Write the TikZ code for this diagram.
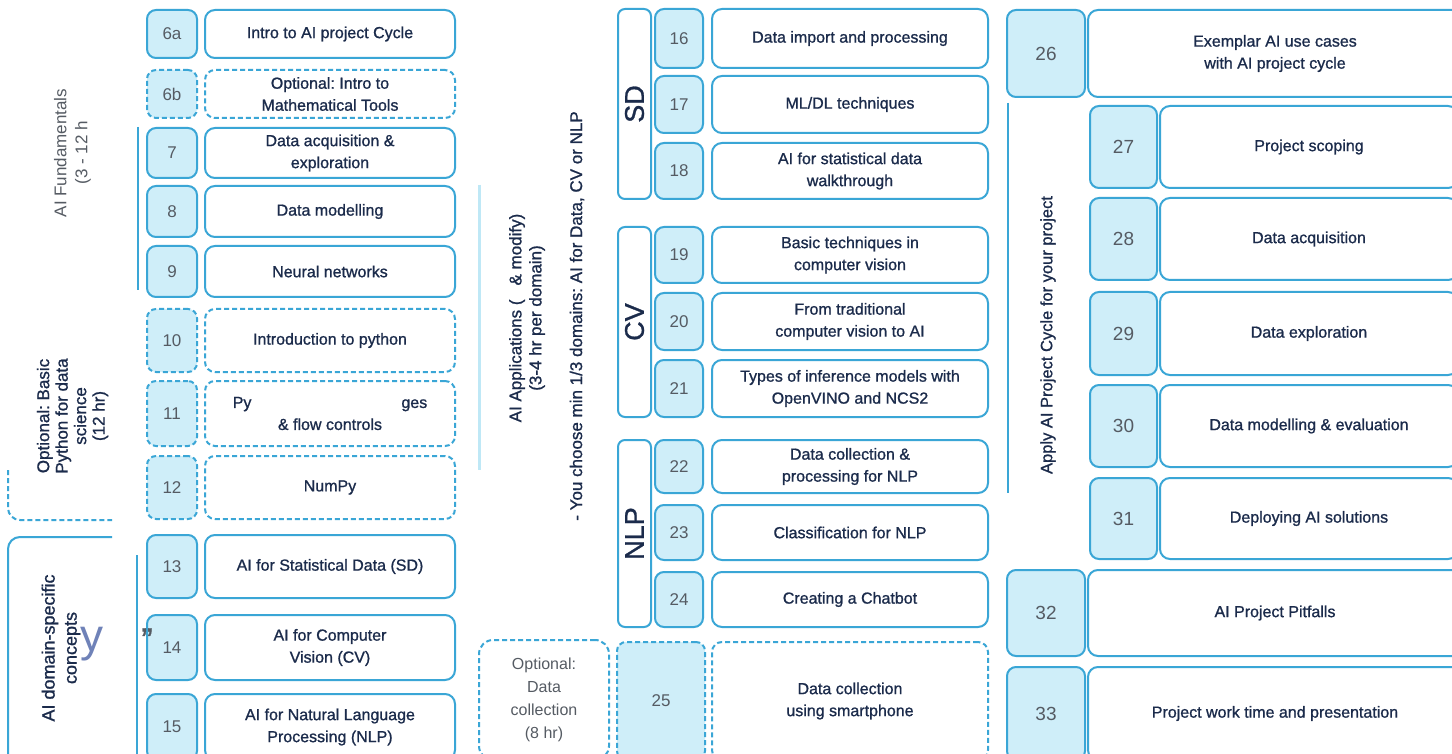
\documentclass[tikz,border=0pt]{standalone}
\usepackage{fontspec}
\setmainfont{Liberation Sans}
\newfontfamily\boxfont{Liberation Sans}[FakeBold=1]
\frenchspacing
\definecolor{edge}{HTML}{3AA6D6}
\definecolor{numfill}{HTML}{CFEEF9}
\definecolor{navy}{HTML}{1B2B4B}
\definecolor{numgray}{HTML}{555B63}
\definecolor{glitch}{HTML}{BFE8F6}
\definecolor{ghost}{HTML}{6F82B8}

\begin{document}
\begin{tikzpicture}[x=1pt, y=-1pt,
    numbox/.style={draw=edge, line width=2pt, fill=numfill, rounded corners=9pt,
      inner sep=0pt, text=numgray, font=\fontsize{17}{17}\selectfont},
    topic/.style={draw=edge, line width=2pt, fill=white, rounded corners=10pt,
      inner sep=0pt, align=center, text=navy, font=\boxfont\fontsize{16}{22}\selectfont},
    optional/.style={dash pattern=on 5pt off 3pt},
    num1/.style={numbox, minimum width=50},
    txt1/.style={topic, minimum width=250},
    num2/.style={numbox, minimum width=48},
    txt2/.style={topic, minimum width=276},
    num3/.style={numbox, minimum width=78, font=\fontsize{19}{19}\selectfont},
    txt3/.style={topic, minimum width=374},
    num3in/.style={numbox, minimum width=67, font=\fontsize{19}{19}\selectfont},
    txt3in/.style={topic, minimum width=298},
    domainbar/.style={draw=edge, line width=2pt, rounded corners=7pt, minimum width=33,
      inner sep=0pt, text=navy, font=\boxfont\fontsize{27}{27}\selectfont},
    sidelabel/.style={rotate=90, align=center, inner sep=0pt, text=navy}
  ]
  \fill[white] (0,0) rectangle (1452,754);
  \clip (0,0) rectangle (1452,754);

  % AI fundamentals
  \node[num1, minimum height=48] (n6a) at (172,34) {6a};
  \node[txt1, minimum height=48] (t6a) at (330,34) {Intro to AI project Cycle};
  \node[num1, optional, minimum height=48] (n6b) at (172,94) {6b};
  \node[txt1, optional, minimum height=48] (t6b) at (330,94) {Optional: Intro to\\Mathematical Tools};
  \node[num1, minimum height=50] (n7) at (172,153) {7};
  \node[txt1, minimum height=50] (t7) at (330,153) {Data acquisition \&\\exploration};
  \node[num1, minimum height=51] (n8) at (172,211.5) {8};
  \node[txt1, minimum height=51] (t8) at (330,211.5) {Data modelling};
  \node[num1, minimum height=51] (n9) at (172,271.5) {9};
  \node[txt1, minimum height=51] (t9) at (330,271.5) {Neural networks};
  \node[sidelabel, text=numgray, font=\fontsize{17}{21}\selectfont] (fund) at (72.5,153) {AI Fundamentals\\(3 - 12 h};
  \draw[edge, line width=2pt] (138,127) -- (138,290);

  % optional python
  \node[num1, optional, minimum height=63] (n10) at (172,340.5) {10};
  \node[txt1, optional, minimum height=63] (t10) at (330,340.5) {Introduction to python};
  \node[num1, optional, minimum height=65] (n11) at (172,413.5) {11};
  \node[txt1, optional, minimum height=65] (t11) at (330,413.5) {Py\hspace{150pt}ges\\\& flow controls};
  \node[num1, optional, minimum height=63] (n12) at (172,487.5) {12};
  \node[txt1, optional, minimum height=63] (t12) at (330,487.5) {NumPy};
  \node[sidelabel, font=\boxfont\fontsize{17}{18.5}\selectfont] (python) at (72.5,416) {Optional: Basic\\Python for data\\science\\(12 hr)};
  \draw[edge, line width=2pt, optional, rounded corners=12pt] (8,470) -- (8,520) -- (112,520);

  % domain concepts
  \node[num1, minimum height=63] (n13) at (172,566.5) {13};
  \node[txt1, minimum height=63] (t13) at (330,566.5) {AI for Statistical Data (SD)};
  \node[num1, minimum height=65] (n14) at (172,647.5) {14};
  \node[txt1, minimum height=65] (t14) at (330,647.5) {AI for Computer\\Vision (CV)};
  \node[num1, minimum height=66] (n15) at (172,727) {15};
  \node[txt1, minimum height=66] (t15) at (330,727) {AI for Natural Language\\Processing (NLP)};
  \node[sidelabel, font=\boxfont\fontsize{18}{22}\selectfont] (concepts) at (61,648) {AI domain-specific\\concepts};
  \draw[edge, line width=2pt, rounded corners=12pt] (8,760) -- (8,537) -- (112,537);
  \draw[edge, line width=2pt] (137,555) -- (137,760);
  \node[text=ghost, font=\fontsize{46}{46}\selectfont] (gly) at (92,644) {y};
  \node[text=numgray, font=\boxfont\fontsize{34}{34}\selectfont] (quo) at (147,640) {”};

  % AI applications
  \node[domainbar, minimum height=190] (sd) at (634.5,104) {\rotatebox{90}{SD}};
  \node[num2, minimum height=59] (n16) at (679,38.5) {16};
  \node[txt2, minimum height=59] (t16) at (850,38.5) {Data import and processing};
  \node[num2, minimum height=57] (n17) at (679,104.5) {17};
  \node[txt2, minimum height=57] (t17) at (850,104.5) {ML/DL techniques};
  \node[num2, minimum height=56] (n18) at (679,171) {18};
  \node[txt2, minimum height=56] (t18) at (850,171) {AI for statistical data\\walkthrough};

  \node[domainbar, minimum height=190] (cv) at (634.5,322) {\rotatebox{90}{CV}};
  \node[num2, minimum height=56] (n19) at (679,255) {19};
  \node[txt2, minimum height=56] (t19) at (850,255) {Basic techniques in\\computer vision};
  \node[num2, minimum height=57] (n20) at (679,321.5) {20};
  \node[txt2, minimum height=57] (t20) at (850,321.5) {From traditional\\computer vision to AI};
  \node[num2, minimum height=57] (n21) at (679,388.5) {21};
  \node[txt2, minimum height=57] (t21) at (850,388.5) {Types of inference models with\\OpenVINO and NCS2};

  \node[domainbar, minimum height=187] (nlp) at (634.5,533.5) {\rotatebox{90}{NLP}};
  \node[num2, minimum height=53] (n22) at (679,466.5) {22};
  \node[txt2, minimum height=53] (t22) at (850,466.5) {Data collection \&\\processing for NLP};
  \node[num2, minimum height=55] (n23) at (679,532.5) {23};
  \node[txt2, minimum height=55] (t23) at (850,532.5) {Classification for NLP};
  \node[num2, minimum height=55] (n24) at (679,599.5) {24};
  \node[txt2, minimum height=55] (t24) at (850,599.5) {Creating a Chatbot};

  \node[sidelabel, font=\boxfont\fontsize{17}{20}\selectfont] (apps) at (527,318) {AI Applications (\hspace{14pt}\& modify)\\(3-4 hr per domain)};
  \node[sidelabel, font=\boxfont\fontsize{17}{20}\selectfont] (choose) at (577,316) {- You choose min 1/3 domains: AI for Data, CV or NLP};
  \draw[glitch, line width=3pt] (479,185) -- (479,470);

  % optional data collection
  \node[draw=edge, line width=2pt, optional, rounded corners=14pt, minimum width=130,
    minimum height=120, align=center, text=numgray, font=\fontsize{16}{23}\selectfont] (collect) at (544,700)
    {Optional:\\Data\\collection\\(8 hr)};
  \node[numbox, optional, minimum width=88, minimum height=118] (n25) at (661,701) {25};
  \node[txt2, optional, minimum height=118] (t25) at (850,701) {Data collection\\using smartphone};

  % apply AI project cycle
  \node[num3, minimum height=87] (n26) at (1046,53.5) {26};
  \node[txt3, minimum height=87] (t26) at (1275,53.5) {Exemplar AI use cases\\with AI project cycle};
  \node[num3in, minimum height=82] (n27) at (1123.5,147) {27};
  \node[txt3in, minimum height=82] (t27) at (1309,147) {Project scoping};
  \node[num3in, minimum height=82] (n28) at (1123.5,239) {28};
  \node[txt3in, minimum height=82] (t28) at (1309,239) {Data acquisition};
  \node[num3in, minimum height=83] (n29) at (1123.5,333.5) {29};
  \node[txt3in, minimum height=83] (t29) at (1309,333.5) {Data exploration};
  \node[num3in, minimum height=82] (n30) at (1123.5,426) {30};
  \node[txt3in, minimum height=82] (t30) at (1309,426) {Data modelling \& evaluation};
  \node[num3in, minimum height=81] (n31) at (1123.5,518.5) {31};
  \node[txt3in, minimum height=81] (t31) at (1309,518.5) {Deploying AI solutions};
  \node[num3, minimum height=86] (n32) at (1046,613) {32};
  \node[txt3, minimum height=86] (t32) at (1275,613) {AI Project Pitfalls};
  \node[num3, minimum height=93] (n33) at (1046,713.5) {33};
  \node[txt3, minimum height=93] (t33) at (1275,713.5) {Project work time and presentation};
  \node[sidelabel, font=\boxfont\fontsize{16.5}{20}\selectfont] (apply) at (1048,335) {Apply AI Project Cycle for your project};
  \draw[edge, line width=2pt] (1008,103) -- (1008,493);
\end{tikzpicture}
\end{document}
